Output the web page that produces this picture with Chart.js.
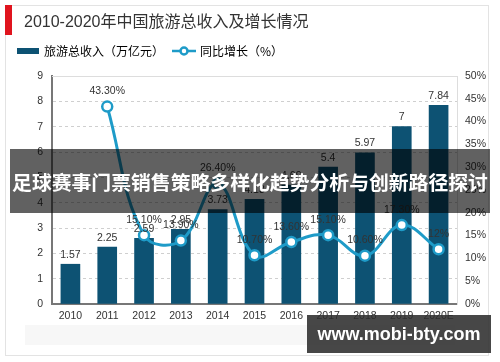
<!DOCTYPE html>
<html lang="zh">
<head>
<meta charset="utf-8">
<title>2010-2020年中国旅游总收入及增长情况</title>
<script src="https://cdn.jsdelivr.net/npm/chart.js@4.4.1/dist/chart.umd.min.js"></script>
<style>
  body { margin: 0; background: #fff; }
  #wrap { position: relative; width: 500px; height: 362px; }
  #banner {
    position: absolute; left: 10px; top: 149px; width: 480px; height: 64px;
    background: rgba(0, 0, 0, 0.62);
    display: flex; align-items: center; justify-content: center; overflow: hidden;
  }
  #banner span {
    color: #fff; font-family: "Noto Sans CJK SC", sans-serif; font-weight: bold;
    font-size: 20px; white-space: nowrap;
  }
  #mark {
    position: absolute; left: 307px; top: 315px; width: 184px; height: 38px;
    background: rgba(45, 45, 45, 0.88); color: #fff;
    font: bold 18px "Liberation Sans", sans-serif;
    display: flex; align-items: center; justify-content: center;
  }
</style>
</head>
<body>
<div id="wrap">
  <canvas id="tourChart" width="500" height="362"></canvas>
  <div id="banner"><span id="bannerText">足球赛事门票销售策略多样化趋势分析与创新路径探讨</span></div>
  <div id="mark">www.mobi-bty.com</div>
</div>
<script>
// dados
const years = ['2010', '2011', '2012', '2013', '2014', '2015', '2016', '2017', '2018', '2019', '2020E']
const income = [1.57, 2.25, 2.59, 2.95, 3.73, 4.13, 4.69, 5.4, 5.97, 7, 7.84]   // 万亿元
const growth = [null, 43.3, 15.1, 13.9, 26.4, 10.7, 13.6, 15.1, 10.6, 17.3, 12] // %
const chartTitle = '2010-2020年中国旅游总收入及增长情况'
const incomeLabel = '旅游总收入（万亿元）'
const growthLabel = '同比增长（%）'

const barColor = '#0d5273'
const lineColor = '#1e9bc8'
const numFont = { family: '"Liberation Sans", "Noto Sans CJK SC"', size: 10.5 }

function pct(v) {
  return (Number.isInteger(v) ? v : v.toFixed(2)) + '%'
}

// ajusta o texto da faixa para caber em ~476px
const bannerText = document.getElementById('bannerText')
const w = bannerText.getBoundingClientRect().width
if (w > 0) bannerText.style.fontSize = (20 * 476 / w).toFixed(2) + 'px'

// ícones da legenda
function legendIcon(kind) {
  const c = document.createElement('canvas')
  c.width = 24
  c.height = 12
  const g = c.getContext('2d')
  if (kind === 'bar') {
    g.fillStyle = barColor
    g.fillRect(1, 3, 22, 6)
  } else {
    g.strokeStyle = lineColor
    g.lineWidth = 2.5
    g.beginPath(); g.moveTo(0, 6); g.lineTo(24, 6); g.stroke()
    g.fillStyle = '#fff'
    g.beginPath(); g.arc(12, 6, 3.5, 0, Math.PI * 2); g.fill(); g.stroke()
  }
  return c
}

// moldura, título e faixa cinza
const decor = {
  id: 'decor',
  beforeDraw(chart) {
    const c = chart.ctx
    c.save()
    c.fillStyle = '#fff'
    c.fillRect(0, 0, chart.width, chart.height)
    c.strokeStyle = '#e3e3e3'
    c.lineWidth = 1
    c.strokeRect(5.5, 5.5, 483, 350)
    c.fillStyle = '#e0141e'
    c.fillRect(5, 5, 7, 30)
    c.fillStyle = '#333'
    c.font = '16px "Liberation Sans", "Noto Sans CJK SC"'
    c.textBaseline = 'middle'
    c.fillText(chartTitle, 24, 23)
    c.fillStyle = '#f7f7f7'
    c.fillRect(25, 325, 430, 20)
    c.restore()
  },
  beforeDatasetsDraw(chart) {
    const a = chart.chartArea
    const c = chart.ctx
    c.save()
    c.strokeStyle = '#dddddd'
    c.lineWidth = 1
    c.beginPath()
    c.moveTo(a.left, a.top + 0.5)
    c.lineTo(a.right, a.top + 0.5)
    c.stroke()
    c.restore()
  }
}

// rótulos de valores
const valueLabels = {
  id: 'valueLabels',
  afterDatasetsDraw(chart) {
    const c = chart.ctx
    c.save()
    c.fillStyle = '#333'
    c.font = '10.5px "Liberation Sans"'
    c.textAlign = 'center'
    c.textBaseline = 'bottom'
    chart.getDatasetMeta(0).data.forEach((bar, i) => {
      c.fillText(String(income[i]), bar.x, bar.y - 4)
    })
    chart.getDatasetMeta(1).data.forEach((pt, i) => {
      if (growth[i] == null) return
      c.fillText(pct(growth[i]), pt.x, pt.y - 10)
    })
    c.restore()
  }
}

// espaço extra abaixo da legenda
const legendGap = {
  id: 'legendGap',
  beforeInit(chart) {
    const fit = chart.legend.fit
    chart.legend.fit = function () {
      fit.call(this)
      this.height += 9
    }
  }
}

const ctx = document.getElementById('tourChart').getContext('2d')
const tourChart = new Chart(ctx, {
  type: 'bar',
  data: {
    labels: years,
    datasets: [
      {
        type: 'bar',
        label: incomeLabel,
        data: income,
        backgroundColor: barColor,
        barThickness: 19,
        yAxisID: 'y',
        order: 1
      },
      {
        type: 'line',
        label: growthLabel,
        data: growth,
        borderColor: lineColor,
        borderWidth: 3,
        tension: 0.4,
        pointRadius: 5,
        pointBackgroundColor: '#fff',
        pointBorderColor: lineColor,
        pointBorderWidth: 2.5,
        yAxisID: 'y1',
        order: 0
      }
    ]
  },
  options: {
    responsive: false,
    animation: false,
    devicePixelRatio: 1,
    layout: { padding: { top: 35, left: 8, right: 0, bottom: 0 } },
    plugins: {
      tooltip: { enabled: false },
      legend: {
        position: 'top',
        align: 'start',
        labels: {
          usePointStyle: true,
          pointStyleWidth: 20,
          padding: 10,
          color: '#333',
          font: { family: '"Noto Sans CJK SC"', size: 12 },
          generateLabels: () => [
            { text: incomeLabel, pointStyle: legendIcon('bar'), fillStyle: barColor, strokeStyle: barColor, lineWidth: 0, hidden: false, datasetIndex: 0 },
            { text: growthLabel, pointStyle: legendIcon('line'), fillStyle: '#fff', strokeStyle: lineColor, lineWidth: 0, hidden: false, datasetIndex: 1 }
          ]
        }
      }
    },
    scales: {
      x: {
        grid: { display: false, drawTicks: false },
        border: { color: '#777', width: 2 },
        ticks: { color: '#333', font: numFont, padding: 6 },
        afterFit: (s) => { s.height = 58 }
      },
      y: {
        position: 'left',
        min: 0,
        max: 9,
        ticks: { stepSize: 1, color: '#333', font: numFont, padding: 9 },
        grid: { color: '#cfcfcf', drawTicks: false },
        border: { color: '#777', width: 2, dash: [3, 3] },
        afterFit: (s) => { s.width = 44 }
      },
      y1: {
        position: 'right',
        min: 0,
        max: 50,
        ticks: { stepSize: 5, color: '#333', font: numFont, padding: 8, callback: (v) => v + '%' },
        grid: { drawOnChartArea: false, drawTicks: false },
        border: { color: '#dddddd', width: 1 },
        afterFit: (s) => { s.width = 43 }
      }
    }
  },
  plugins: [decor, valueLabels, legendGap]
})
</script>
</body>
</html>
